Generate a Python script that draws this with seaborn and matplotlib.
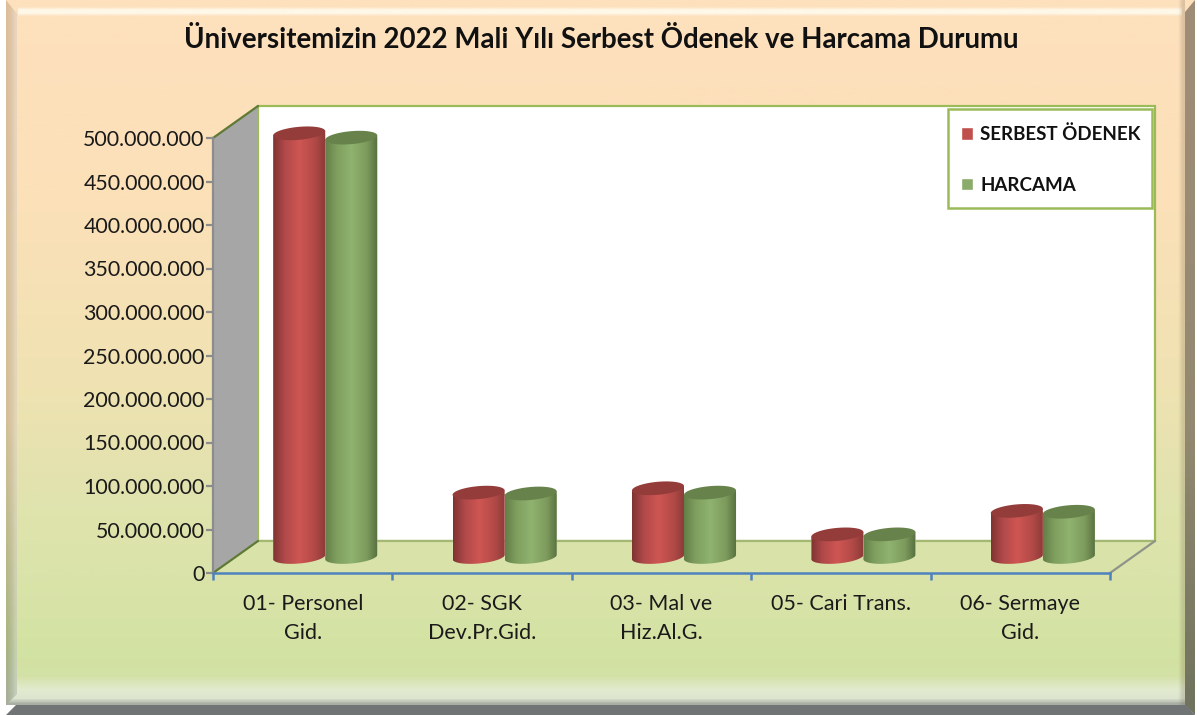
import numpy as np
import pandas as pd
import matplotlib
matplotlib.use('Agg')
import matplotlib.pyplot as plt
import seaborn as sns
from matplotlib.colors import LinearSegmentedColormap
from matplotlib.patches import Polygon, Rectangle
from matplotlib.ticker import FuncFormatter
from matplotlib.transforms import ScaledTranslation

categories = ['01- Personel\nGid.', '02- SGK\nDev.Pr.Gid.', '03- Mal ve\nHiz.Al.G.',
              '05- Cari Trans.', '06- Sermaye\nGid.']
serbest_odenek = [487000000, 74000000, 79000000, 26000000, 53000000]
harcama = [482000000, 73000000, 74000000, 26000000, 52000000]
series_names = ['SERBEST ÖDENEK', 'HARCAMA']
y_ticks = [0, 50000000, 100000000, 150000000, 200000000, 250000000,
           300000000, 350000000, 400000000, 450000000, 500000000]
chart_title = 'Üniversitemizin 2022 Mali Yılı Serbest Ödenek ve Harcama Durumu'

W, H = 1197, 715
FONT = 'Lato'

sns.set_theme(style='white')
plt.rcParams['font.family'] = [FONT, 'DejaVu Sans']

fig = plt.figure(figsize=(W / 100, H / 100), dpi=100, facecolor='white')

# background in pixel coordinates
bg = fig.add_axes([0, 0, 1, 1], zorder=0)
bg.set_xlim(0, W)
bg.set_ylim(H, 0)
bg.axis('off')


def v_gradient(ax, stops, box, clip=None, zorder=1):
    cmap = LinearSegmentedColormap.from_list('g', stops)
    grad = np.linspace(0, 1, 256).reshape(-1, 1)
    im = ax.imshow(grad, cmap=cmap, extent=box, aspect='auto', zorder=zorder, vmin=0, vmax=1)
    if clip is not None:
        poly = Polygon(clip, closed=True, transform=ax.transData)
        im.set_clip_path(poly)
    return im


def glow(ax, color, alphas, box, horizontal=False, zorder=3.5, clip=None):
    # soft band, alpha ramps along one direction
    rgba = np.ones((len(alphas), 1, 4)) * np.array(matplotlib.colors.to_rgba(color))
    rgba[:, 0, 3] = alphas
    if horizontal:
        rgba = rgba.transpose(1, 0, 2)
    im = ax.imshow(rgba, extent=box, aspect='auto', zorder=zorder, interpolation='bilinear')
    if clip is not None:
        im.set_clip_path(Polygon(clip, closed=True, transform=ax.transData))
    return im


v_gradient(bg, [(0, '#FEE0BD'), (0.3, '#FBE0B8'), (0.55, '#EFE2B2'), (0.7, '#E1E3AE'),
                (0.85, '#D8E3A8'), (0.935, '#D2E2A2'), (0.96, '#D3E1A6'), (0.98, '#E2EBCF'),
                (0.993, '#DDE4D0'), (1, '#A8AEA4')],
           (6, 1195, 705, 0))
# bevel
glow(bg, '#FFFBEE', [0, 0.9, 0.9, 0], (18, 1182, 18, 5), zorder=2)
left_clip = [(6, 0), (17, 14), (17, 694), (6, 705)]
v_gradient(bg, [(0, '#DDBE9C'), (0.6, '#D4C098'), (0.92, '#A9B583'), (1, '#A8B09C')], (6, 17, 705, 0),
           clip=left_clip, zorder=3)
glow(bg, '#FFFFFF', [0, 0.08, 0.2, 0.35], (6, 17, 705, 0), horizontal=True, clip=left_clip)
glow(bg, '#6E5A44', [0, 0.22], (1176, 1185, 705, 0), horizontal=True, zorder=2.5)
v_gradient(bg, [(0, '#A08D78'), (0.6, '#938970'), (1, '#70735E')], (1185, 1195, 715, 0),
           clip=[(1195, 0), (1185, 12), (1185, 705), (1195, 715)], zorder=3)
bg.add_patch(Polygon([(6, 715), (16, 705), (1186, 705), (1195, 715)], color='#707475', zorder=4, lw=0))

# chart walls
x0, x1, y0, y1 = 213, 1110, 573, 138
dx, dy = 45, 32
bg.add_patch(Polygon([(x0 + dx, y1 - dy), (x1 + dx, y1 - dy), (x1 + dx, y0 - dy), (x0 + dx, y0 - dy)],
                     fc='white', ec='#9BBB59', lw=1.6, zorder=5))
bg.add_patch(Polygon([(x0, y0), (x1, y0), (x1 + dx, y0 - dy), (x0 + dx, y0 - dy)],
                     fc='#D9E3A9', ec='none', zorder=6))
bg.plot([x0 + dx, x1 + dx], [y0 - dy, y0 - dy], color='#A5B873', lw=1.6, zorder=7)
bg.plot([x1, x1 + dx], [y0, y0 - dy], color='#8E9488', lw=1.6, zorder=7)
bg.add_patch(Polygon([(x0, y0), (x0 + dx, y0 - dy), (x0 + dx, y1 - dy), (x0, y1)],
                     fc='#A6A6A6', ec='none', zorder=6))
bg.plot([x0, x0 + dx], [y1, y1 - dy], color='#5F7A35', lw=1.6, zorder=7)
bg.plot([x0, x0 + dx], [y0, y0 - dy], color='#5F7A35', lw=1.6, zorder=7)
# legend box
bg.add_patch(Rectangle((948, 109), 204, 99, fc='white', ec='#9BBB59', lw=1.8, zorder=8))
bg.set_xlim(0, W)
bg.set_ylim(H, 0)

# main axes
ax = fig.add_axes([x0 / W, (H - y0) / H, (x1 - x0) / W, (y0 - y1) / H], zorder=2)
ax.patch.set_alpha(0)

df = pd.DataFrame({
    'kalem': categories * 2,
    'tutar': serbest_odenek + harcama,
    'seri': [series_names[0]] * 5 + [series_names[1]] * 5,
})
sns.barplot(data=df, x='kalem', y='tutar', hue='seri', hue_order=series_names,
            palette=['#C0504D', '#8BAB6B'], width=0.58, gap=0, saturation=1, ax=ax, legend=False)

ax.set_xlim(-0.5, 4.5)
ax.set_ylim(0, 500000000)
ax.set_xlabel('')
ax.set_ylabel('')

# cylinder look: gradient body and cap built from every seaborn bar
offset = ax.transData + ScaledTranslation(22.5 / 100, 16 / 100, fig.dpi_scale_trans)
px = 500000000 / (y0 - y1)  # data units for one pixel
B, TILT = 6.5 * px, 2.2 * px
looks = [
    ([(0, '#7F3432'), (0.22, '#B0494A'), (0.5, '#CF5653'), (0.8, '#B04946'), (1, '#8A3A38')], '#943C3A'),
    ([(0, '#637F47'), (0.22, '#7F9F5F'), (0.5, '#90B370'), (0.8, '#7C9A5C'), (1, '#566F3E')], '#67834B'),
]
t = np.linspace(0, 2 * np.pi, 90)
z = 3
for container, (stops, cap_color) in zip(ax.containers, looks):
    cmap = LinearSegmentedColormap.from_list('cyl', stops)
    for bar in container:
        x, w, v = bar.get_x(), bar.get_width(), bar.get_height()
        cx = x + w / 2
        half = t[t >= np.pi]
        base = np.c_[cx + w / 2 * np.cos(half), B * np.sin(half) + TILT * np.cos(half)]
        body = np.vstack([base, [[x + w, v + TILT]], [[x, v - TILT]]])
        body_patch = Polygon(body, closed=True, transform=offset)
        bar.set_transform(offset)
        bar.set_clip_path(body_patch)
        bar.set_clip_box(fig.bbox)
        bar.set_zorder(z)
        im = ax.imshow(np.linspace(0, 1, 128).reshape(1, -1), cmap=cmap, aspect='auto',
                       extent=(x, x + w, -B * 1.5, v + B), transform=offset, zorder=z + 0.1)
        im.set_clip_path(body_patch)
        im.set_clip_box(fig.bbox)
        cap = np.c_[cx + w / 2 * np.cos(t), v + B * np.sin(t) + TILT * np.cos(t)]
        ax.add_patch(Polygon(cap, closed=True, fc=cap_color, ec='none', transform=offset,
                             zorder=z + 0.2, clip_on=False))
        z += 1

ax.set_xlim(-0.5, 4.5)
ax.set_ylim(0, 500000000)

# axes, ticks
sns.despine(ax=ax, top=True, right=True)
ax.spines['left'].set_color('#8C8C8C')
ax.spines['left'].set_linewidth(1.6)
ax.spines['bottom'].set_color('#4F81BD')
ax.spines['bottom'].set_linewidth(1.8)
ax.set_yticks(y_ticks)
ax.yaxis.set_major_formatter(FuncFormatter(lambda v, _: f'{v:,.0f}'.replace(',', '.')))
ax.tick_params(axis='y', left=True, length=5, width=1.6, color='#8C8C8C', labelsize=15.4,
               labelcolor='#1A1A1A', pad=1)
ax.set_xticks(np.arange(-0.5, 5), minor=True)
ax.tick_params(axis='x', which='minor', bottom=True, length=5, width=1.8, color='#4F81BD')
ax.tick_params(axis='x', which='major', bottom=False, labelsize=15.5, labelcolor='#1A1A1A', pad=9)
for lab in ax.get_xticklabels():
    lab.set_linespacing(1.6)

# legend, the frame is the box drawn on bg
leg = ax.legend([Rectangle((0, 0), 1, 1, fc='#C0504D'), Rectangle((0, 0), 1, 1, fc='#8BAB6B')],
                series_names, loc='upper left', bbox_to_anchor=(948 / W, 1 - 112 / H),
                bbox_transform=fig.transFigure, borderaxespad=0, frameon=False,
                handlelength=0.65, handleheight=0.65, handletextpad=0.37,
                labelspacing=1.8, borderpad=0.7, prop={'family': FONT, 'weight': 'bold', 'size': 13.5})
leg.set_zorder(100)
for txt in leg.get_texts():
    txt.set_color('#111111')

fig.text(601 / W, 1 - 40 / H, chart_title, ha='center', va='center', fontsize=19.9, fontweight='bold',
         color='#111111', zorder=10)

fig.savefig('out.png', dpi=100)
plt.close(fig)
